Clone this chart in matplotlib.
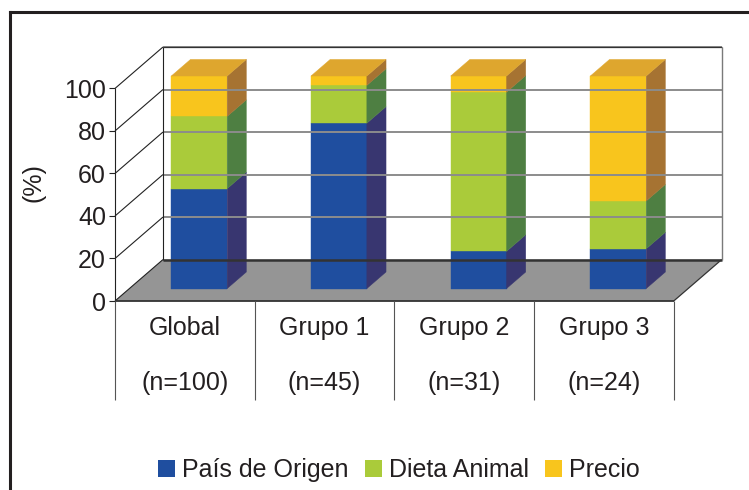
import numpy as np
import matplotlib.pyplot as plt
from matplotlib.patches import Polygon, Patch
from matplotlib.lines import Line2D
from matplotlib.transforms import offset_copy

plt.rcParams['font.family'] = ['Liberation Sans', 'DejaVu Sans']

# porcentajes por grupo
grupos = ['Global', 'Grupo 1', 'Grupo 2', 'Grupo 3']
tamanos = ['(n=100)', '(n=45)', '(n=31)', '(n=24)']
pais_origen = [47, 77.8, 17.5, 18.7]
dieta_animal = [34, 17.8, 74.9, 22.5]
precio = [19, 4.4, 7.6, 58.8]
series = ['País de Origen', 'Dieta Animal', 'Precio']
ticks = [0, 20, 40, 60, 80, 100]

colores_frente = ['#1f4e9f', '#aacb3a', '#f8c51d']
colores_lado = ['#383670', '#4e7f42', '#a67332']
color_tapa = '#dea62e'
texto = '#231f20'
FS = 18

# vector de profundidad (unidades de categoria, unidades de %)
DX, DY = 0.3435, 19.5
ANCHO = 0.4
D0, D1 = 0.3, 0.7


def proj(x, v, d):
    return (x + d * DX, v + d * DY)


def linea(p, q, **kw):
    ax.plot([p[0], q[0]], [p[1], q[1]], clip_on=False, solid_capstyle='butt', **kw)


fig = plt.figure(figsize=(7.49, 4.90), dpi=100)
ax = fig.add_axes([115 / 749, 1 - 301 / 490, (721.7 - 115) / 749, (301 - 47) / 490])
ax.set_xlim(-0.5, 3.5 + DX)
ax.set_ylim(0, 100 + DY)
ax.axis('off')

n = len(grupos)
xl, xr = -0.5, n - 0.5

# suelo
ax.add_patch(Polygon([proj(xl, 0, 0), proj(xr, 0, 0), proj(xr, 0, 1), proj(xl, 0, 1)],
                     facecolor='#959595', edgecolor='none', clip_on=False))

# rejilla del fondo y lineas de la pared izquierda
for v in ticks[1:]:
    linea(proj(xl, v, 1), proj(xr, v, 1), color='#8c8c8c', lw=1.4)
for v in ticks:
    linea(proj(xl, v, 0), proj(xl, v, 1), color='#222222', lw=0.8)
linea(proj(xl, 0, 1), proj(xr, 0, 1), color='#333333', lw=1.8)
linea(proj(xl, 100, 1), proj(xr, 100, 1), color='#333333', lw=0.9)
linea(proj(xl, 0, 1), proj(xl, 100, 1), color='#222222', lw=0.8)
linea(proj(xr, 0, 1), proj(xr, 100, 1), color='#7a7a7a', lw=1.0)
linea(proj(xl, 0, 0), proj(xl, 100, 0), color='#222222', lw=0.8)
linea(proj(xr, 0, 0), proj(xr, 0, 1), color='#333333', lw=0.9)
linea(proj(xl, 0, 0), proj(xr, 0, 0), color='#333333', lw=1.3)

# marcas y etiquetas del eje
ax.plot([xl] * len(ticks), ticks, ls='none', marker=0, ms=4, mew=0.8, color='#222222', clip_on=False)
tr = offset_copy(ax.transData, fig, x=-9, y=0, units='dots')
for v in ticks:
    ax.text(xl, v, str(v), transform=tr, ha='right', va='center_baseline', fontsize=FS, color=texto)
ax.text(-1.087, 55.9, '(%)', rotation=90, ha='center', va='center', fontsize=FS, color=texto)

# barras apiladas
valores = [pais_origen, dieta_animal, precio]
for i in range(n):
    x0, x1 = i - ANCHO / 2, i + ANCHO / 2
    base = 0
    for s in range(3):
        h = valores[s][i]
        top = base + h
        ax.add_patch(Polygon([proj(x0, base, D0), proj(x1, base, D0), proj(x1, top, D0), proj(x0, top, D0)],
                             facecolor=colores_frente[s], edgecolor=colores_frente[s], lw=0.3, clip_on=False))
        ax.add_patch(Polygon([proj(x1, base, D0), proj(x1, base, D1), proj(x1, top, D1), proj(x1, top, D0)],
                             facecolor=colores_lado[s], edgecolor=colores_lado[s], lw=0.3, clip_on=False))
        base = top
    ax.add_patch(Polygon([proj(x0, base, D0), proj(x1, base, D0), proj(x1, base, D1), proj(x0, base, D1)],
                         facecolor=color_tapa, edgecolor=color_tapa, lw=0.3, clip_on=False))

# tabla de categorias bajo el grafico
for k in range(n + 1):
    linea((xl + k, 0), (xl + k, -46.5), color='#555555', lw=0.8)
for i in range(n):
    ax.text(i, -12.7, grupos[i], ha='center', va='center', fontsize=FS, color=texto)
    ax.text(i, -38.5, tamanos[i], ha='center', va='center', fontsize=FS, color=texto)

# leyenda
handles = [Patch(facecolor=c, edgecolor='none', label=s) for c, s in zip(colores_frente, series)]
fig.legend(handles=handles, loc='center', bbox_to_anchor=(399 / 749, 1 - 470 / 490), ncol=3,
           frameon=False, fontsize=FS, handlelength=0.68, handleheight=0.68,
           handletextpad=0.28, columnspacing=0.65, borderpad=0, labelcolor=texto)

# marco exterior
fig.add_artist(Line2D([10 / 749, 10 / 749], [0, 1 - 12 / 490], transform=fig.transFigure,
                      color=texto, lw=2.2, solid_capstyle='projecting'))
fig.add_artist(Line2D([10 / 749, 1], [1 - 12 / 490, 1 - 12 / 490], transform=fig.transFigure,
                      color=texto, lw=2.2, solid_capstyle='projecting'))

fig.savefig('out.png', dpi=100)
